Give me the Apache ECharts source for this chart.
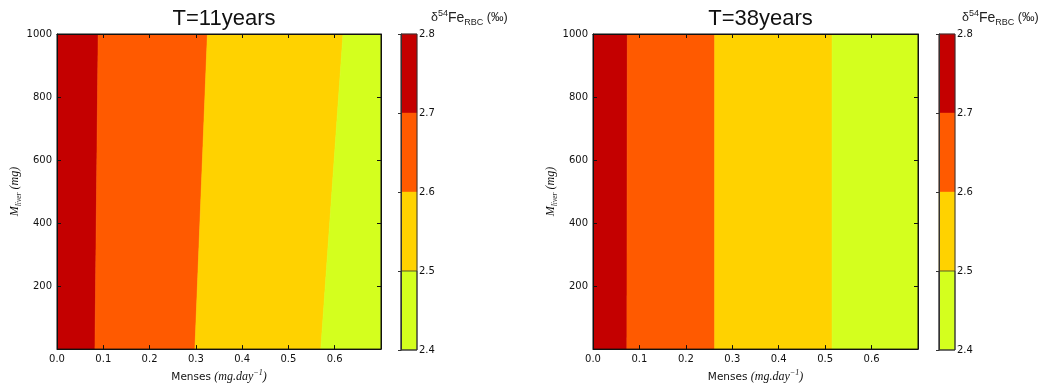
<!DOCTYPE html>
<html><head><meta charset="utf-8">
<script src="https://cdn.jsdelivr.net/npm/echarts@6/dist/echarts.min.js"></script>
<style>html,body{margin:0;padding:0;background:#fff}#c{width:1044px;height:388px}</style>
</head><body><div id="c"></div>
<script>
// ---------- data ----------
const panelTitles = ['T=11years', 'T=38years'];
const levels = [2.8, 2.7, 2.6, 2.5, 2.4];                 // colour-bar level edges (top -> bottom)
const levelColors = ['#C40000', '#FF5A00', '#FFD200', '#D4FF1E'];
const colorbarTicks = [2.4, 2.5, 2.6, 2.7, 2.8];
const liverRange = [0, 1000];                             // M_liver (mg)
const mensesRange = [0, 0.7];                             // Menses (mg/day)
const mensesTicks = [0.0, 0.1, 0.2, 0.3, 0.4, 0.5, 0.6];
const liverTicks = [200, 400, 600, 800, 1000];
// menses position of the 2.7, 2.6, 2.5 contours at M_liver = 0 and at M_liver = 1000
const t11AtLowLiver  = [0.082, 0.298, 0.570];
const t11AtHighLiver = [0.089, 0.325, 0.618];
const t38AtLowLiver  = [0.073, 0.262, 0.515];
const t38AtHighLiver = [0.074, 0.262, 0.515];

// ---------- helpers ----------
function regions(low, high) {
  const lo = [mensesRange[0]].concat(low, [mensesRange[1]]);
  const hi = [mensesRange[0]].concat(high, [mensesRange[1]]);
  const out = [];
  for (let i = 0; i < levelColors.length; i++) out.push([lo[i], lo[i + 1], hi[i], hi[i + 1], i]);
  return out;
}
function contourItem(params, api) {
  const k = api.value(4);
  const pts = [
    api.coord([api.value(0), liverRange[0]]),
    api.coord([api.value(1), liverRange[0]]),
    api.coord([api.value(3), liverRange[1]]),
    api.coord([api.value(2), liverRange[1]])
  ];
  return { type: 'polygon', shape: { points: pts },
    style: { fill: levelColors[k], stroke: levelColors[k], lineWidth: 0.6 } };
}
const cbarData = levelColors.map((c, i) => [levels[i + 1], levels[i], i]);
function cbarItem(params, api) {
  const k = api.value(2);
  const p1 = api.coord([0, api.value(1)]);
  const p2 = api.coord([1, api.value(0)]);
  return { type: 'rect', shape: { x: p1[0], y: p1[1], width: p2[0] - p1[0], height: p2[1] - p1[1] },
    style: { fill: levelColors[k], stroke: k === 3 ? '#333' : levelColors[k], lineWidth: k === 3 ? 0.8 : 0.4 } };
}

const tickFont = { fontFamily: 'DejaVu Sans', fontSize: 10, color: '#111' };
const serif = 'Liberation Serif';
const xName = {
  name: '{a|Menses }{b|(mg.day}{s|−1}{b|)}',
  rich: {
    a: { fontFamily: 'DejaVu Sans', fontSize: 10.5, color: '#111', lineHeight: 16 },
    b: { fontFamily: serif, fontStyle: 'italic', fontSize: 12, color: '#111', lineHeight: 16 },
    s: { fontFamily: serif, fontStyle: 'italic', fontSize: 8, color: '#111', lineHeight: 8, verticalAlign: 'top' }
  }
};
const yName = {
  name: '{m|M}{s|liver}{b| (mg)}',
  rich: {
    m: { fontFamily: serif, fontStyle: 'italic', fontSize: 12, color: '#111', lineHeight: 16 },
    s: { fontFamily: serif, fontStyle: 'italic', fontSize: 7.5, color: '#111', lineHeight: 7, verticalAlign: 'bottom' },
    b: { fontFamily: serif, fontStyle: 'italic', fontSize: 12, color: '#111', lineHeight: 16 }
  }
};

const panels = [
  { left: 57, width: 324, cbLeft: 401, cbLabelLeft: 431, title: panelTitles[0], low: t11AtLowLiver, high: t11AtHighLiver },
  { left: 593, width: 325, cbLeft: 939, cbLabelLeft: 962, title: panelTitles[1], low: t38AtLowLiver, high: t38AtHighLiver }
];
const TOP = 34, H = 316;
const grid = [], xAxis = [], yAxis = [], series = [], title = [];
const tick = { show: true, inside: true, length: 4, lineStyle: { color: '#111', width: 1 } };
const cbText = (size) => ({ fontFamily: 'Liberation Sans', fontWeight: 'normal', fontSize: size, color: '#222' });
panels.forEach((p, i) => {
  const g = grid.length;
  grid.push({ left: p.left, top: TOP, width: p.width, height: H, show: true, z: 10,
    borderColor: '#111', borderWidth: 1, backgroundColor: 'transparent', containLabel: false });
  grid.push({ left: p.cbLeft, top: TOP, width: 16, height: H, show: true, z: 10,
    borderColor: '#333', borderWidth: 1, backgroundColor: 'transparent' });
  const base = { type: 'value', min: mensesRange[0], max: mensesRange[1], interval: 0.1, gridIndex: g, z: 10,
    splitLine: { show: false }, axisLine: { show: true, onZero: false, lineStyle: { color: '#111', width: 1 } } };
  const xa = xAxis.length;
  xAxis.push(Object.assign({}, base, { position: 'bottom',
    axisTick: tick,
    axisLabel: Object.assign({ margin: 5, showMaxLabel: false,
      formatter: v => (mensesTicks.some(t => Math.abs(t - v) < 1e-6) ? v.toFixed(1) : '') }, tickFont),
    name: xName.name, nameLocation: 'middle', nameGap: 14, nameTextStyle: { rich: xName.rich } }));
  xAxis.push(Object.assign({}, base, { position: 'top',
    axisTick: tick, axisLabel: { show: false } }));
  const ybase = { type: 'value', min: liverRange[0], max: liverRange[1], interval: 200, gridIndex: g, z: 10,
    splitLine: { show: false }, axisLine: { show: true, onZero: false, lineStyle: { color: '#111', width: 1 } } };
  const ya = yAxis.length;
  yAxis.push(Object.assign({}, ybase, { position: 'left',
    axisTick: tick,
    axisLabel: Object.assign({ margin: 5, showMinLabel: false,
      formatter: v => (liverTicks.includes(v) ? String(v) : '') }, tickFont),
    name: yName.name, nameLocation: 'middle', nameRotate: 90, nameGap: 34, nameTextStyle: { rich: yName.rich } }));
  yAxis.push(Object.assign({}, ybase, { position: 'right',
    axisTick: tick, axisLabel: { show: false } }));
  // colorbar axes
  const cx = xAxis.length;
  xAxis.push({ type: 'value', gridIndex: g + 1, min: 0, max: 1, show: false });
  const cy = yAxis.length;
  yAxis.push({ type: 'value', gridIndex: g + 1, min: 2.4, max: 2.8, interval: 0.1, position: 'right', z: 10,
    splitLine: { show: false }, axisLine: { show: true, lineStyle: { color: '#333', width: 1 } },
    axisTick: { show: true, inside: true, length: 3, lineStyle: { color: '#333' } },
    axisLabel: Object.assign({ margin: 2,
      formatter: v => { const r = colorbarTicks.find(t => Math.abs(t - v) < 1e-6); return r === undefined ? '' : r.toFixed(1); } }, tickFont) });
  series.push({ type: 'custom', xAxisIndex: xa, yAxisIndex: ya, renderItem: contourItem,
    data: regions(p.low, p.high), clip: true, silent: true, animation: false });
  series.push({ type: 'custom', xAxisIndex: cx, yAxisIndex: cy, renderItem: cbarItem,
    data: cbarData, silent: true, animation: false });
  title.push({ text: p.title, left: p.left + p.width / 2, top: 3, textAlign: 'center',
    textStyle: { fontFamily: 'Liberation Sans', fontWeight: 'normal', fontSize: 22, color: '#111' } });
  title.push({ text: '{a|δ}{s|54}{b|Fe}{u|RBC}{a| (‰)}', left: p.cbLabelLeft, top: 9, padding: 0,
    textStyle: { fontWeight: 'normal', rich: {
      a: Object.assign(cbText(12.5), { lineHeight: 18 }),
      b: Object.assign(cbText(14), { lineHeight: 18 }),
      s: Object.assign(cbText(9), { lineHeight: 9, verticalAlign: 'top' }),
      u: Object.assign(cbText(9), { lineHeight: 8, verticalAlign: 'bottom' })
    } } });
});

const chart = echarts.init(document.getElementById('c'), null, { renderer: 'canvas' });
chart.setOption({ animation: false, backgroundColor: '#fff', title, grid, xAxis, yAxis, series });
</script>
</body></html>
